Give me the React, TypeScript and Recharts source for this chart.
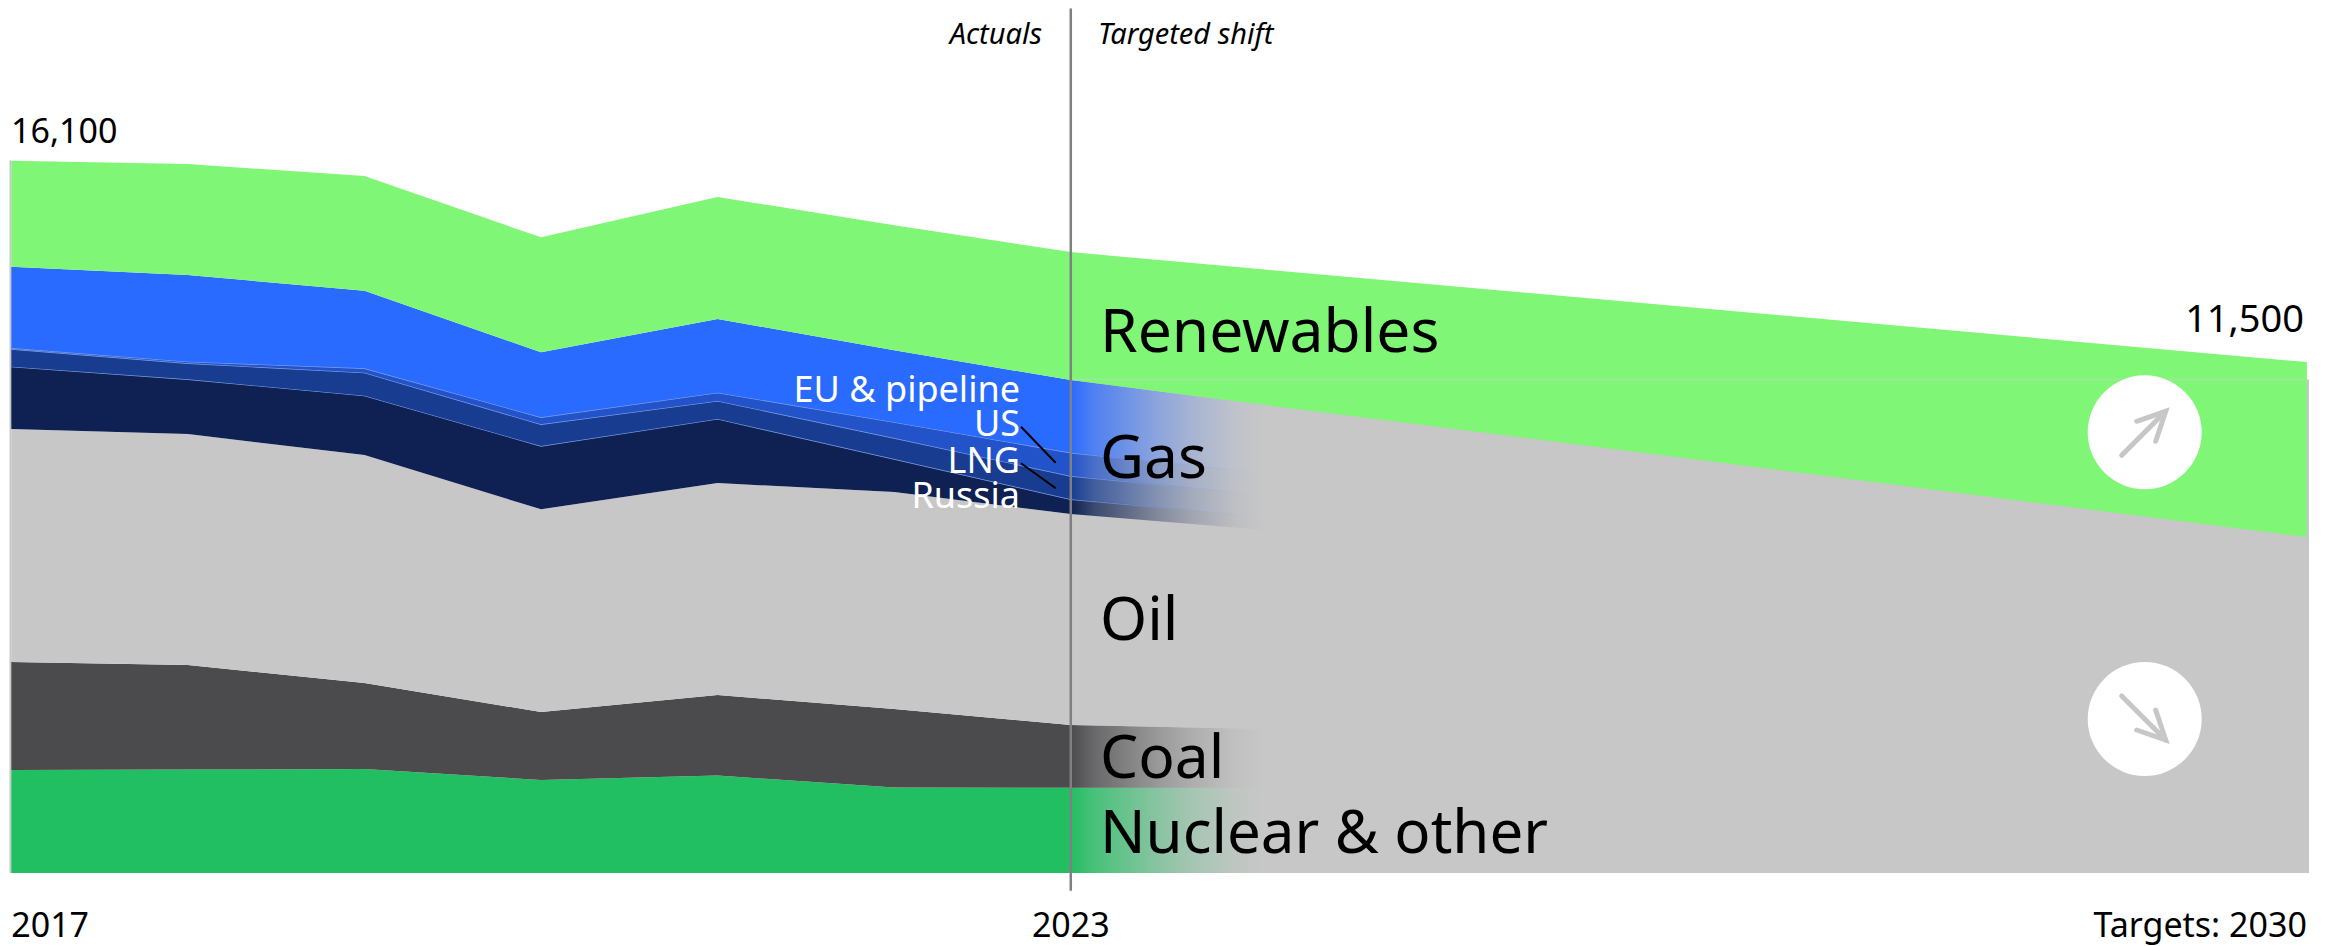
import { Area, ComposedChart, ReferenceArea, ReferenceLine, XAxis, YAxis } from 'recharts';

const years = [2017, 2018, 2019, 2020, 2021, 2022, 2023, 2024.1, 2030];
const nuclear = [2327, 2336, 2349, 2101, 2200, 1931, 1927, 1927, 0];
const coal = [2440, 2363, 1943, 1536, 1821, 1773, 1416, 1326, 0];
const oil = [5263, 5218, 5150, 4579, 4789, 4902, 4766, 4495, 7590];
const russia = [1407, 1236, 1340, 1430, 1446, 745, 332, 294, 0];
const lng = [400, 361, 520, 490, 407, 474, 526, 497, 0];
const us = [23, 36, 99, 158, 187, 361, 526, 497, 0];
const euPipeline = [1837, 1959, 1753, 1468, 1665, 1626, 1642, 1536, 0];
const renewables = [2395, 2508, 2591, 2598, 2756, 2824, 2892, 3061, 3953];

const xTicks = [2017, 2023, 2030];
const xTickLabels = ['2017', '2023', 'Targets: 2030'];

const chartData = years.map((year, i) => ({
  year,
  nuclear: nuclear[i],
  coal: coal[i],
  oil: oil[i],
  russia: russia[i],
  lng: lng[i],
  us: us[i],
  euPipeline: euPipeline[i],
  renewables: renewables[i],
}));

const FONT = '"Noto Sans", sans-serif';
const GRAY = '#c7c7c7';
const fadeStart = (2023 - 2017) / 13;
const fadeEnd = (2024.1 - 2017) / 13;
// opacity along the fade
const fadeStops = [
  [0, 1],
  [0.12, 0.76],
  [0.46, 0.36],
  [0.63, 0.2],
  [0.85, 0.05],
  [1, 0],
];

function FadeGradient({ id, color }: { id: string; color: string }) {
  return (
    <linearGradient id={id} x1="0" y1="0" x2="1" y2="0">
      {fadeStops.map(([t, o]) => (
        <stop key={t} offset={fadeStart + t * (fadeEnd - fadeStart)} stopColor={color} stopOpacity={o} />
      ))}
    </linearGradient>
  );
}

function YearTick({ x, payload }: any) {
  const i = xTicks.indexOf(payload.value);
  const anchor = i === 0 ? 'start' : i === 1 ? 'middle' : 'end';
  return (
    <text x={x} y={937} textAnchor={anchor} fontSize={34} fontFamily={FONT} fill="#000">
      {xTickLabels[i]}
    </text>
  );
}

function ArrowBadge({ cy, up }: { cy: number; up: boolean }) {
  const cx = 2144.7;
  const s = up ? -1 : 1;
  return (
    <g>
      <circle cx={cx} cy={cy} r={57} fill="#fff" />
      <g stroke={GRAY} strokeWidth={5} strokeLinecap="round" fill="none">
        <path d={`M${cx - 23} ${cy - s * 23} L${cx + 21} ${cy + s * 21}`} />
        <path d={`M${cx - 8} ${cy + s * 11} L${cx + 21} ${cy + s * 21} L${cx + 11} ${cy - s * 9}`} />
      </g>
    </g>
  );
}

export default function App() {
  return (
    <div style={{ position: 'absolute', left: 0, top: 0, width: 2336, height: 946, overflow: 'hidden' }}>
      <ComposedChart
        width={2336}
        height={946}
        data={chartData}
        margin={{ top: 1, right: 27, bottom: 0, left: 9.5 }}
      >
        <defs>
          <FadeGradient id="fadeNuclear" color="#21bf61" />
          <FadeGradient id="fadeCoal" color="#4b4b4d" />
          <FadeGradient id="fadeRussia" color="#0e2152" />
          <FadeGradient id="fadeLng" color="#173c90" />
          <FadeGradient id="fadeUs" color="#2253c9" />
          <FadeGradient id="fadeEu" color="#2a6bff" />
          <FadeGradient id="fadeLine" color="#7f9fe6" />
        </defs>
        <XAxis
          dataKey="year"
          type="number"
          domain={[2016.99, 2030.012]}
          ticks={xTicks}
          interval={0}
          axisLine={false}
          tickLine={false}
          height={73}
          tick={YearTick}
        />
        <YAxis hide domain={[0, 19700]} />

        <ReferenceArea x1={2016.99} x2={2017} y1={0} y2={16100} fill={GRAY} fillOpacity={1} stroke="none" />
        <ReferenceArea x1={2023} x2={2030.012} y1={0} y2={11150} fill={GRAY} fillOpacity={1} stroke="none" />

        <Area dataKey="nuclear" stackId="a" type="linear" fill="url(#fadeNuclear)" fillOpacity={1} stroke="none" dot={false} activeDot={false} isAnimationActive={false} />
        <Area dataKey="coal" stackId="a" type="linear" fill="url(#fadeCoal)" fillOpacity={1} stroke="none" dot={false} activeDot={false} isAnimationActive={false} />
        <Area dataKey="oil" stackId="a" type="linear" fill={GRAY} fillOpacity={1} stroke="none" dot={false} activeDot={false} isAnimationActive={false} />
        <Area dataKey="russia" stackId="a" type="linear" fill="url(#fadeRussia)" fillOpacity={1} stroke="url(#fadeLine)" strokeWidth={1.2} dot={false} activeDot={false} isAnimationActive={false} />
        <Area dataKey="lng" stackId="a" type="linear" fill="url(#fadeLng)" fillOpacity={1} stroke="url(#fadeLine)" strokeWidth={1.2} dot={false} activeDot={false} isAnimationActive={false} />
        <Area dataKey="us" stackId="a" type="linear" fill="url(#fadeUs)" fillOpacity={1} stroke="url(#fadeLine)" strokeWidth={1.2} dot={false} activeDot={false} isAnimationActive={false} />
        <Area dataKey="euPipeline" stackId="a" type="linear" fill="url(#fadeEu)" fillOpacity={1} stroke="none" dot={false} activeDot={false} isAnimationActive={false} />
        <Area dataKey="renewables" stackId="a" type="linear" fill="#80f676" fillOpacity={1} stroke="none" dot={false} activeDot={false} isAnimationActive={false} />

        <ReferenceLine
          segment={[{ x: 2023, y: 11150 }, { x: 2030, y: 11150 }]}
          stroke="#a3e39b"
          strokeWidth={1.5}
          ifOverflow="visible"
        />
        <ReferenceLine
          segment={[{ x: 2023, y: 19530 }, { x: 2023, y: -400 }]}
          stroke="#808084"
          strokeWidth={2.5}
          ifOverflow="visible"
        />
      </ComposedChart>

      {/* annotations sit in their own layer, the chart paints areas above its plain children */}
      <svg width={2336} height={946} style={{ position: 'absolute', left: 0, top: 0 }}>
        <ArrowBadge cy={432.3} up />
        <ArrowBadge cy={719} up={false} />

        <g stroke="#000" strokeWidth={2} fill="none">
          <path d="M1021 426.7 L1055.7 462.7" />
          <path d="M1021 463.3 L1055.7 488.3" />
        </g>

        <g fontFamily={FONT} fill="#000">
          <text x={11} y={143} fontSize={34}>16,100</text>
          <text x={2304} y={332} fontSize={38} textAnchor="end">11,500</text>
          <text x={1042} y={44} fontSize={29} fontStyle="italic" textAnchor="end">Actuals</text>
          <text x={1098} y={44} fontSize={29} fontStyle="italic">Targeted shift</text>
          <text x={1100} y={352} fontSize={60.5}>Renewables</text>
          <text x={1100} y={478} fontSize={60.5}>Gas</text>
          <text x={1100} y={640} fontSize={60.5}>Oil</text>
          <text x={1100} y={778} fontSize={60.5}>Coal</text>
          <text x={1100} y={853} fontSize={60}>Nuclear &amp; other</text>
        </g>
        <g fontFamily={FONT} fill="#fff" fontSize={36} textAnchor="end">
          <text x={1020} y={402}>EU &amp; pipeline</text>
          <text x={1020} y={436}>US</text>
          <text x={1020} y={473}>LNG</text>
          <text x={1020} y={508}>Russia</text>
        </g>
      </svg>
    </div>
  );
}
